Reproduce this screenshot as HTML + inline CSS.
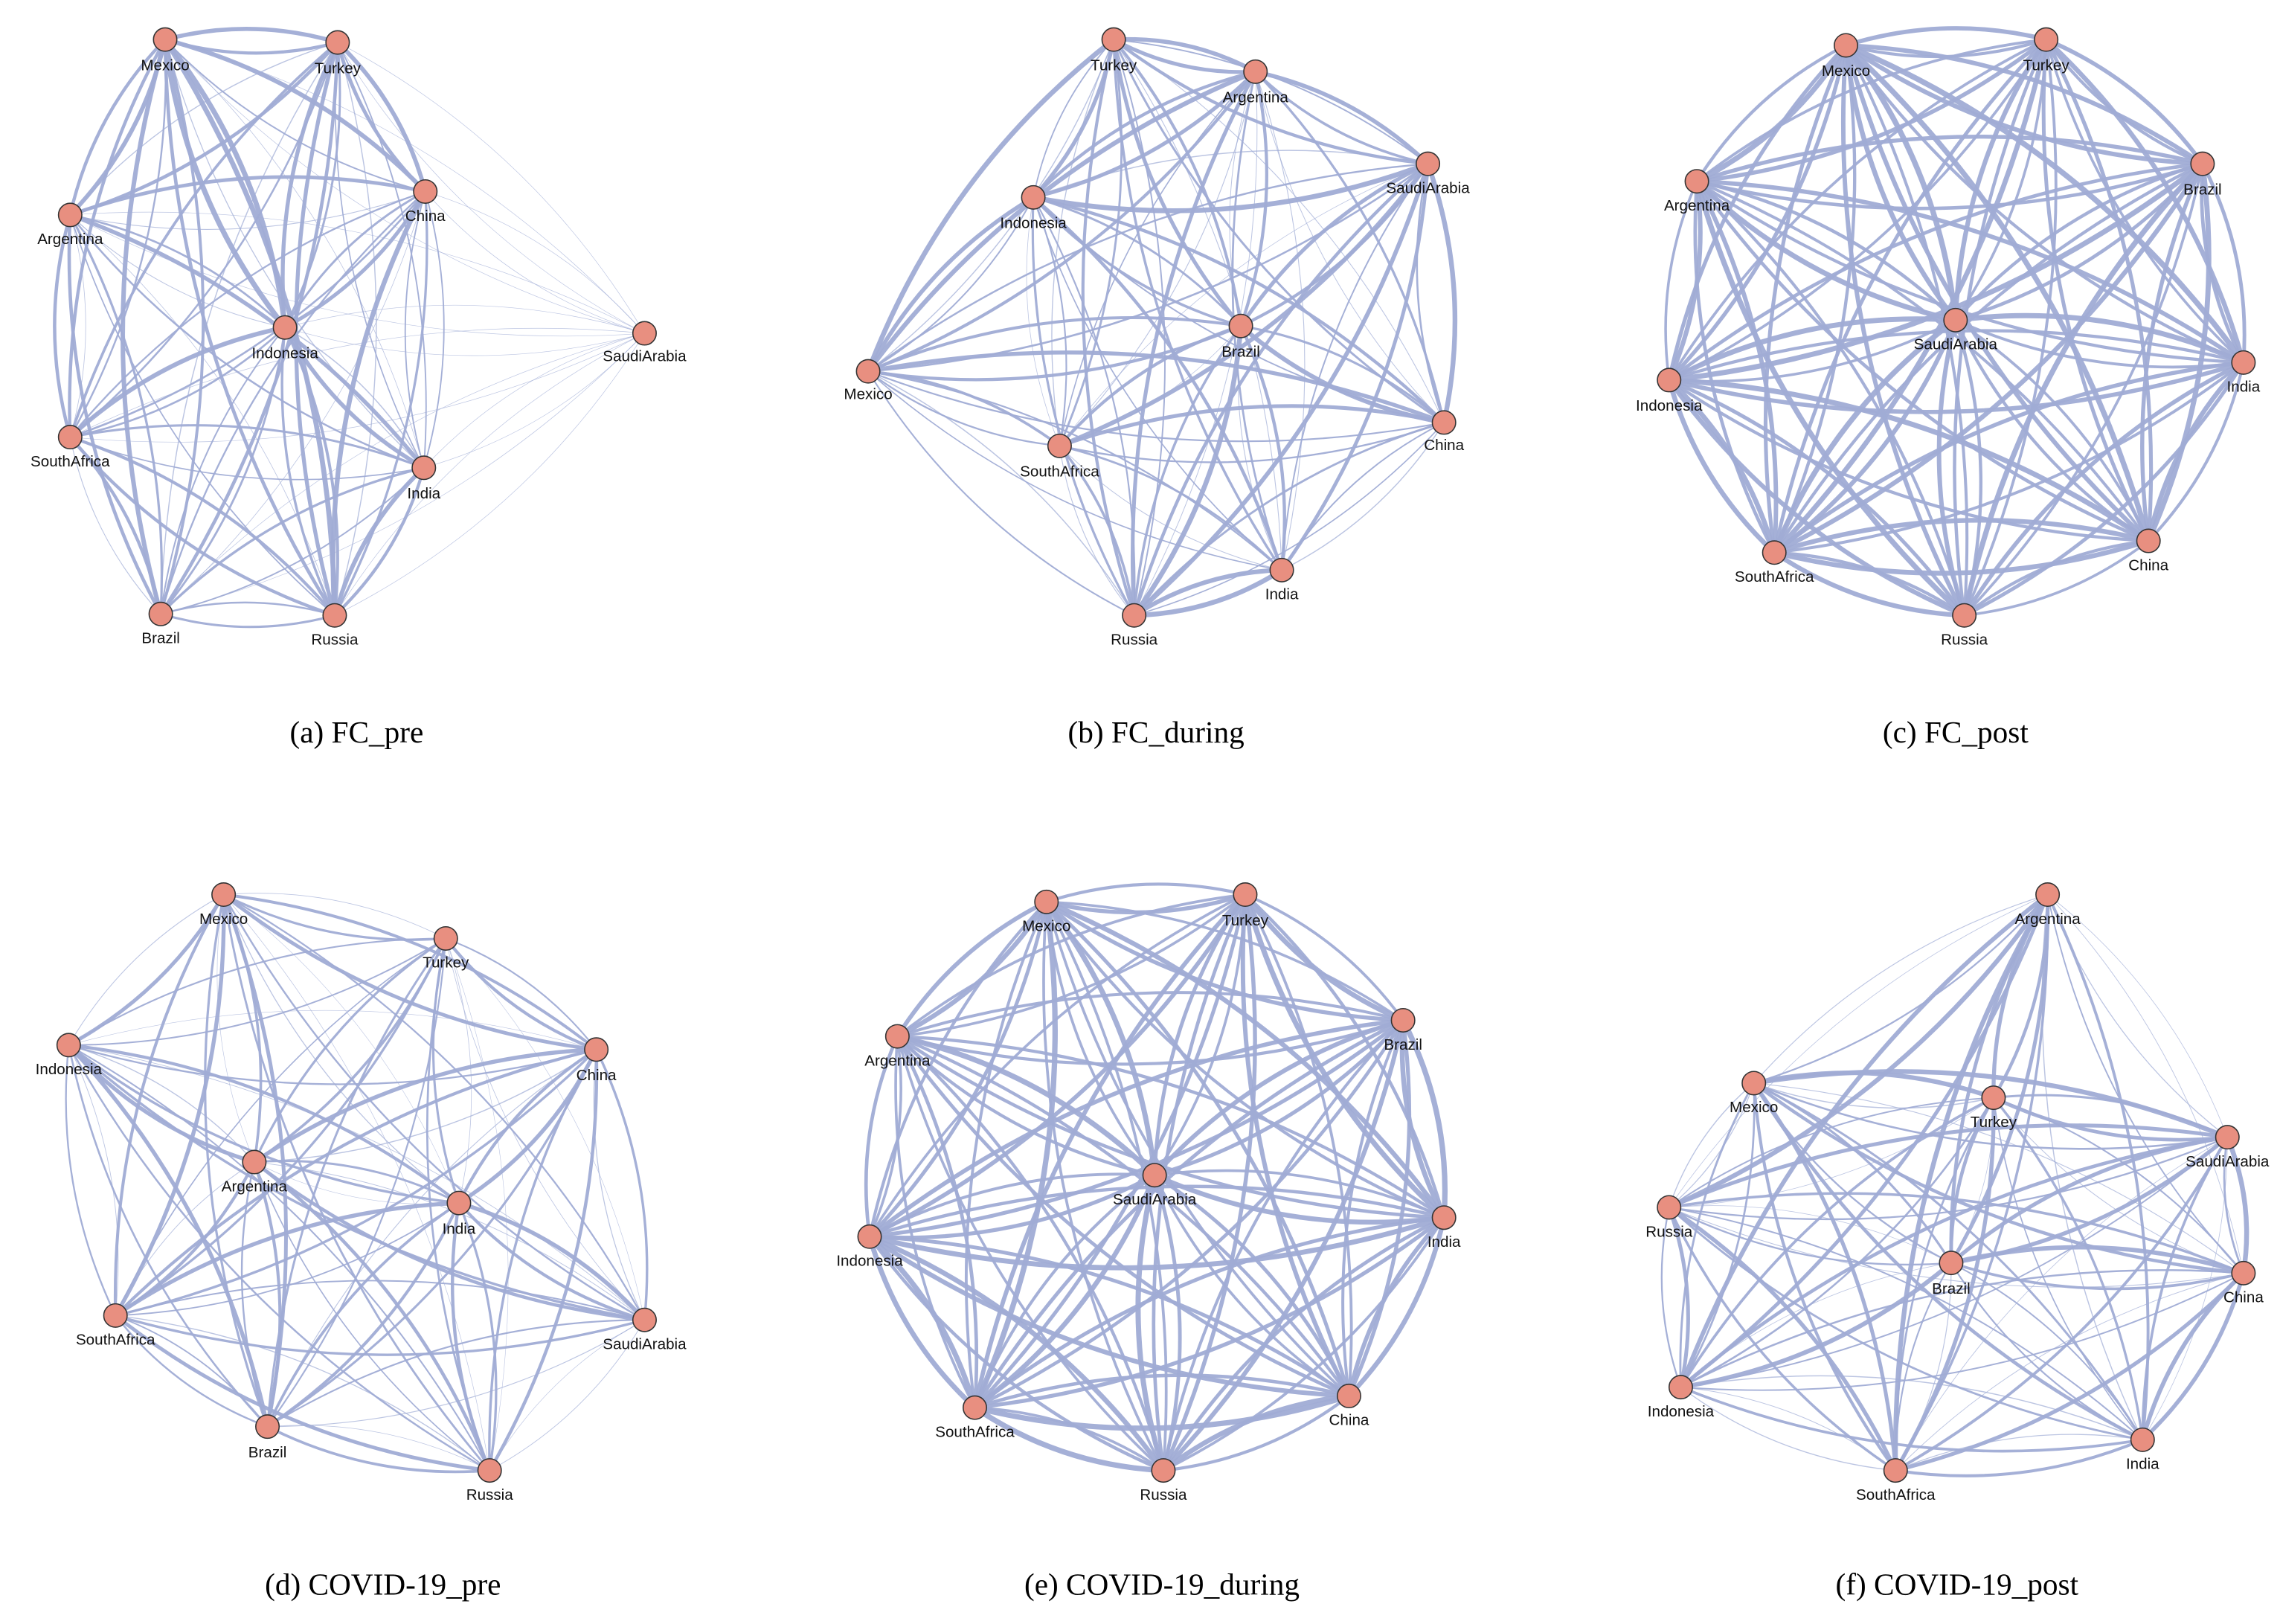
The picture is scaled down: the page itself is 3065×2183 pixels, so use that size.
<!DOCTYPE html>
<html><head><meta charset="utf-8"><style>
html,body{margin:0;padding:0;background:#fff;}
svg{display:block;}
.l{font-family:"Liberation Sans",Arial,sans-serif;font-size:10.5px;fill:#111;text-anchor:middle;}
.c{font-family:"Liberation Serif","Times New Roman",serif;font-size:21px;fill:#000;text-anchor:middle;}
</style></head><body>
<svg id="s" width="3065" height="2183" viewBox="0 0 1560 1111" xmlns="http://www.w3.org/2000/svg">
<rect width="1560" height="1111" fill="#fff"/>
<g id="edges"></g>
<g id="nodes"></g>
<g id="labels">
<text class="l" x="113" y="48">Mexico</text><text class="l" x="231" y="50">Turkey</text><text class="l" x="291" y="151">China</text><text class="l" x="441" y="247">SaudiArabia</text><text class="l" x="195" y="245">Indonesia</text><text class="l" x="48" y="167">Argentina</text><text class="l" x="48" y="319">SouthAfrica</text><text class="l" x="290" y="341">India</text><text class="l" x="110" y="440">Brazil</text><text class="l" x="229" y="441">Russia</text>
<text class="l" x="762" y="48">Turkey</text><text class="l" x="859" y="70">Argentina</text><text class="l" x="977" y="132">SaudiArabia</text><text class="l" x="707" y="156">Indonesia</text><text class="l" x="849" y="244">Brazil</text><text class="l" x="594" y="273">Mexico</text><text class="l" x="988" y="308">China</text><text class="l" x="725" y="326">SouthAfrica</text><text class="l" x="877" y="410">India</text><text class="l" x="776" y="441">Russia</text>
<text class="l" x="1263" y="52">Mexico</text><text class="l" x="1400" y="48">Turkey</text><text class="l" x="1507" y="133">Brazil</text><text class="l" x="1161" y="144">Argentina</text><text class="l" x="1338" y="239">SaudiArabia</text><text class="l" x="1535" y="268">India</text><text class="l" x="1142" y="281">Indonesia</text><text class="l" x="1470" y="390">China</text><text class="l" x="1214" y="398">SouthAfrica</text><text class="l" x="1344" y="441">Russia</text>
<text class="l" x="153" y="632">Mexico</text><text class="l" x="305" y="662">Turkey</text><text class="l" x="408" y="739">China</text><text class="l" x="47" y="735">Indonesia</text><text class="l" x="174" y="815">Argentina</text><text class="l" x="314" y="844">India</text><text class="l" x="79" y="920">SouthAfrica</text><text class="l" x="441" y="923">SaudiArabia</text><text class="l" x="183" y="997">Brazil</text><text class="l" x="335" y="1026">Russia</text>
<text class="l" x="716" y="637">Mexico</text><text class="l" x="852" y="633">Turkey</text><text class="l" x="960" y="718">Brazil</text><text class="l" x="614" y="729">Argentina</text><text class="l" x="790" y="824">SaudiArabia</text><text class="l" x="988" y="853">India</text><text class="l" x="595" y="866">Indonesia</text><text class="l" x="923" y="975">China</text><text class="l" x="667" y="983">SouthAfrica</text><text class="l" x="796" y="1026">Russia</text>
<text class="l" x="1401" y="632">Argentina</text><text class="l" x="1200" y="761">Mexico</text><text class="l" x="1364" y="771">Turkey</text><text class="l" x="1524" y="798">SaudiArabia</text><text class="l" x="1142" y="846">Russia</text><text class="l" x="1335" y="885">Brazil</text><text class="l" x="1535" y="891">China</text><text class="l" x="1150" y="969">Indonesia</text><text class="l" x="1466" y="1005">India</text><text class="l" x="1297" y="1026">SouthAfrica</text>
</g>
<text class="c" x="244" y="508">(a) FC_pre</text>
<text class="c" x="791" y="508">(b) FC_during</text>
<text class="c" x="1338" y="508">(c) FC_post</text>
<text class="c" x="262" y="1091">(d) COVID-19_pre</text>
<text class="c" x="795" y="1091">(e) COVID-19_during</text>
<text class="c" x="1339" y="1091">(f) COVID-19_post</text>
</svg>
<script>
(function(){
var G=[
 {w:[0.4,3.6],weak:[3],p:[[113,27],[231,29],[291,131],[441,228],[195,224],[48,147],[48,299],[290,320],[110,420],[229,421]]},
 {w:[0.4,3.4],weak:[],p:[[762,27],[859,49],[977,112],[707,135],[849,223],[594,254],[988,289],[725,305],[877,390],[776,421]]},
 {w:[1.8,3.8],weak:[],p:[[1263,31],[1400,27],[1507,112],[1161,124],[1338,219],[1535,248],[1142,260],[1470,370],[1214,378],[1344,421]]},
 {w:[0.3,2.8],weak:[],p:[[153,612],[305,642],[408,718],[47,715],[174,795],[314,823],[79,900],[441,903],[183,976],[335,1006]]},
 {w:[1.8,3.8],weak:[],p:[[716,617],[852,612],[960,698],[614,709],[790,804],[988,833],[595,846],[923,955],[667,963],[796,1006]]},
 {w:[0.4,3.4],weak:[],p:[[1401,612],[1200,741],[1364,751],[1524,778],[1142,826],[1335,864],[1535,871],[1150,949],[1466,985],[1297,1006]]}
];
var seed=12345;function r(){seed=(seed*1103515245+12345)%2147483648;return seed/2147483648;}
var NS="http://www.w3.org/2000/svg",E=document.getElementById("edges"),N=document.getElementById("nodes");
G.forEach(function(g){
 var p=g.p,n=p.length;
 for(var i=0;i<n;i++)for(var j=0;j<n;j++){if(i==j)continue;
  var a=p[i],b=p[j],dx=b[0]-a[0],dy=b[1]-a[1];
  var k=0.14;var mx=(a[0]+b[0])/2-dy*k,my=(a[1]+b[1])/2+dx*k;
  var t=r();var w=g.w[0]+(g.w[1]-g.w[0])*Math.pow(t,1.4);
  if(g.weak.indexOf(i)>=0||g.weak.indexOf(j)>=0)w=0.35;
  var e=document.createElementNS(NS,"path");
  e.setAttribute("d","M"+a[0]+","+a[1]+"Q"+mx.toFixed(1)+","+my.toFixed(1)+" "+b[0]+","+b[1]);
  e.setAttribute("fill","none");e.setAttribute("stroke","#a0acd5");e.setAttribute("stroke-width",w.toFixed(2));
  e.setAttribute("stroke-opacity",w<0.8?0.7:0.95);
  E.appendChild(e);}
 p.forEach(function(q){var c=document.createElementNS(NS,"circle");c.setAttribute("cx",q[0]);c.setAttribute("cy",q[1]);c.setAttribute("r",8);c.setAttribute("fill","#e88f80");c.setAttribute("stroke","#333");c.setAttribute("stroke-width","0.8");N.appendChild(c);});
});
})();
</script>
</body></html>
